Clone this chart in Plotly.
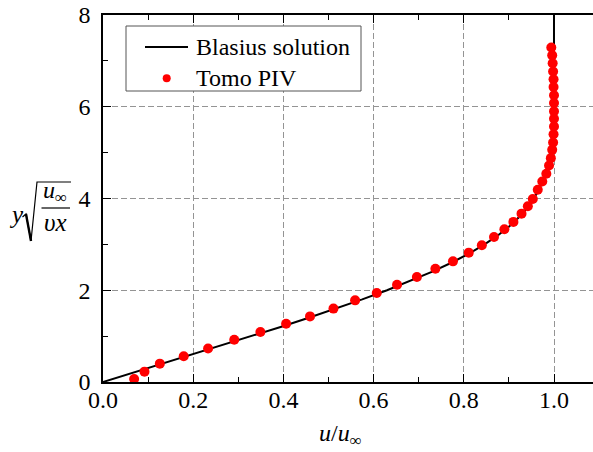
import plotly.graph_objects as go

# Blasius similarity profile: eta = y*sqrt(u_inf/(nu x)), f'(eta) = u/u_inf
blasius_eta = [0.0, 0.2, 0.4, 0.6, 0.8, 1.0, 1.2, 1.4, 1.6, 1.8, 2.0, 2.2, 2.4, 2.6,
               2.8, 3.0, 3.2, 3.4, 3.6, 3.8, 4.0, 4.2, 4.4, 4.6, 4.8, 5.0, 5.2, 5.4,
               5.6, 5.8, 6.0, 6.2, 6.4, 6.6, 6.8, 7.0, 7.2, 7.4, 7.6, 7.8, 8.0]
blasius_u = [0.0, 0.06641, 0.13277, 0.19894, 0.26471, 0.32979, 0.39378, 0.45627,
             0.51676, 0.57477, 0.62977, 0.68132, 0.72899, 0.77246, 0.81152, 0.84605,
             0.87609, 0.90177, 0.92333, 0.94112, 0.95552, 0.96696, 0.97587, 0.98269,
             0.98779, 0.99155, 0.99425, 0.99616, 0.99748, 0.99838, 0.99898, 0.99937,
             0.99961, 0.99977, 0.99987, 0.99992, 0.99996, 0.99998, 0.99999, 1.0, 1.0]

# Tomographic PIV measurements
piv_eta = [0.065, 0.226, 0.40, 0.56, 0.73, 0.92, 1.09, 1.27, 1.43, 1.60, 1.78, 1.94,
           2.12, 2.29, 2.47, 2.63, 2.82, 2.98, 3.16, 3.33, 3.49, 3.67, 3.83, 3.99,
           4.19, 4.37, 4.54, 4.72, 4.88, 5.06, 5.22, 5.40, 5.57, 5.74, 5.90, 6.08,
           6.25, 6.43, 6.60, 6.77, 6.95, 7.12, 7.29]
piv_u = [0.069, 0.092, 0.126, 0.179, 0.233, 0.291, 0.349, 0.406, 0.459, 0.511, 0.559,
         0.607, 0.652, 0.696, 0.737, 0.776, 0.811, 0.840, 0.867, 0.890, 0.910, 0.928,
         0.942, 0.953, 0.964, 0.974, 0.983, 0.989, 0.993, 0.996, 0.998, 0.999, 1.000,
         1.000, 1.000, 1.000, 1.000, 0.999, 0.999, 0.998, 0.997, 0.996, 0.994]

x_ticks = [0.0, 0.2, 0.4, 0.6, 0.8, 1.0]
x_tick_labels = ["0.0", "0.2", "0.4", "0.6", "0.8", "1.0"]
y_ticks = [0, 2, 4, 6, 8]
y_tick_labels = ["0", "2", "4", "6", "8"]

series_names = ["Blasius solution", "Tomo PIV"]
LINE_COLOR = "black"
MARKER_COLOR = "#ff0000"

FONT = "'Liberation Serif', 'Times New Roman', Times, serif"
W, H = 593, 452
ML, MR, MT, MB = 103, 0, 15, 70
PW, PH = W - ML - MR, H - MT - MB


def px(x):
    return (x - ML) / PW


def py(y):
    return (H - MB - y) / PH


fig = go.Figure()
fig.add_trace(go.Scatter(
    x=blasius_u, y=blasius_eta, mode="lines", name=series_names[0],
    line=dict(color=LINE_COLOR, width=2), showlegend=False,
))
fig.add_trace(go.Scatter(
    x=piv_u, y=piv_eta, mode="markers", name=series_names[1],
    marker=dict(color=MARKER_COLOR, size=10, line=dict(width=0)), showlegend=False,
))

grid = dict(showgrid=True, gridcolor="#949494", gridwidth=1.2, griddash="6px,3px")

fig.update_xaxes(
    range=[0, (W - ML) / 451.0], tickvals=x_ticks, ticktext=x_tick_labels,
    ticks="inside", ticklen=8, tickwidth=1.3, tickcolor="black",
    showline=True, linecolor="black", linewidth=1.6, mirror="ticks",
    minor=dict(ticks="inside", ticklen=5, tickwidth=1.3, tickcolor="black", dtick=0.1,
               showgrid=False),
    tickfont=dict(family=FONT, size=24, color="black"),
    zeroline=False, ticklabelstandoff=-5, **grid,
)
fig.update_yaxes(
    range=[0, 8], tickvals=y_ticks, ticktext=y_tick_labels,
    ticks="inside", ticklen=8, tickwidth=1.3, tickcolor="black",
    showline=True, linecolor="black", linewidth=1.6, mirror=False,
    minor=dict(ticks="inside", ticklen=5, tickwidth=1.3, tickcolor="black", dtick=1,
               showgrid=False),
    tickfont=dict(family=FONT, size=24, color="black"),
    zeroline=False, ticklabelstandoff=6, **grid,
)

annotations = [
    # x-axis title
    dict(x=px(340), y=py(435), xref="paper", yref="paper", showarrow=False,
         text="<i>u</i>/<i>u</i><sub>∞</sub>", xanchor="center", yanchor="middle",
         font=dict(family=FONT, size=24, color="black")),
    # y-axis title pieces: y * sqrt(u_inf / (nu x))
    dict(x=px(16), y=py(214), xref="paper", yref="paper", showarrow=False,
         text="<i>y</i>", xanchor="center", yanchor="middle",
         font=dict(family=FONT, size=25, color="black")),
    dict(x=px(55), y=py(192), xref="paper", yref="paper", showarrow=False,
         text="<i>u</i><sub>∞</sub>", xanchor="center", yanchor="middle",
         font=dict(family=FONT, size=24, color="black")),
    dict(x=px(55), y=py(223), xref="paper", yref="paper", showarrow=False,
         text="<i>υx</i>", xanchor="center", yanchor="middle",
         font=dict(family=FONT, size=25, color="black")),
    # legend entries
    dict(x=px(194), y=py(47), xref="paper", yref="paper", showarrow=False,
         text=series_names[0], xanchor="left", yanchor="middle",
         font=dict(family=FONT, size=24, color="black")),
    dict(x=px(194), y=py(78), xref="paper", yref="paper", showarrow=False,
         text=series_names[1], xanchor="left", yanchor="middle",
         font=dict(family=FONT, size=24, color="black")),
]

shapes = [
    # radical sign
    dict(type="path", xref="paper", yref="paper",
         path=(f"M{px(22.5)},{py(217)} L{px(26)},{py(214)} L{px(31)},{py(241)} "
               f"L{px(37)},{py(182)} L{px(71)},{py(182)}"),
         line=dict(color="black", width=1.2)),
    dict(type="line", xref="paper", yref="paper",
         x0=px(26), y0=py(214), x1=px(31), y1=py(241),
         line=dict(color="black", width=2.4)),
    # fraction bar
    dict(type="line", xref="paper", yref="paper",
         x0=px(41.5), y0=py(208), x1=px(70), y1=py(208),
         line=dict(color="black", width=1.2)),
    # legend frame and symbols
    dict(type="rect", xref="paper", yref="paper",
         x0=px(126), y0=py(26), x1=px(361), y1=py(91),
         line=dict(color="#555555", width=1), fillcolor="white", layer="above"),
    dict(type="line", xref="paper", yref="paper",
         x0=px(145), y0=py(47), x1=px(188), y1=py(47),
         line=dict(color=LINE_COLOR, width=2)),
    dict(type="circle", xref="paper", yref="paper",
         x0=px(162.7), y0=py(74.3), x1=px(170.7), y1=py(82.3),
         line=dict(width=0), fillcolor=MARKER_COLOR),
]

fig.update_layout(
    width=W, height=H,
    margin=dict(l=ML, r=MR, t=MT, b=MB, pad=0),
    paper_bgcolor="white", plot_bgcolor="white",
    font=dict(family=FONT, color="black"),
    showlegend=False,
    annotations=annotations, shapes=shapes,
)

fig.write_html("out.html")
